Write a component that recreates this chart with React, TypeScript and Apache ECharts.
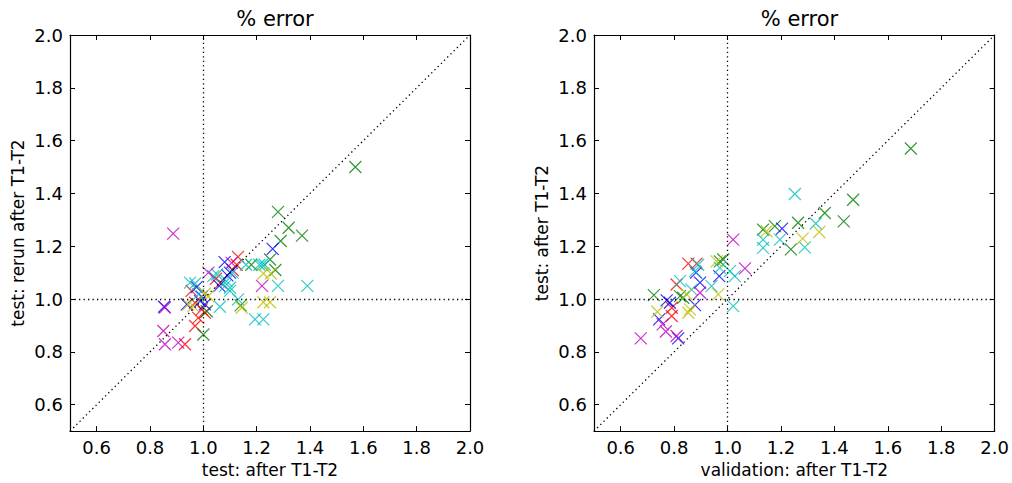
import React, { useEffect, useRef } from "react";
import * as echarts from "echarts";

const tickValues = [0.6, 0.8, 1.0, 1.2, 1.4, 1.6, 1.8, 2.0];
const titles = ["% error", "% error"];
const xNames = ["test: after T1-T2", "validation: after T1-T2"];
const yNames = ["test: rerun after T1-T2", "test: after T1-T2"];

// left panel: [test after T1-T2, test rerun after T1-T2]
const leftRed = [[1.13, 1.16], [1.125, 1.13], [1.11, 1.11], [1.047, 1.077], [1.065, 1.062], [0.956, 1.031], [0.969, 0.986], [0.994, 0.961], [1.006, 0.948], [0.981, 0.929], [0.969, 0.898], [0.931, 0.829]];
const leftGreen = [[1.57, 1.5], [1.28, 1.33], [1.32, 1.27], [1.37, 1.24], [1.29, 1.22], [1.25, 1.15], [1.27, 1.11], [1.18, 1.13], [1.14, 0.976], [1.013, 0.954], [1.0, 0.866]];
const leftBlue = [[1.26, 1.19], [1.08, 1.14], [1.1, 1.1], [1.09, 1.09], [1.06, 1.05], [0.975, 1.045], [0.994, 1.009], [0.988, 0.992], [0.938, 0.98], [1.006, 0.98], [0.853, 0.971]];
const leftCyan = [[1.22, 1.13], [1.28, 1.05], [1.39, 1.05], [1.21, 1.13], [1.23, 1.13], [1.16, 1.13], [1.11, 1.1], [1.037, 1.087], [1.052, 1.093], [1.087, 1.068], [1.081, 1.049], [1.1, 1.043], [1.1, 1.031], [0.95, 1.062], [0.969, 1.059], [0.981, 1.018], [1.062, 0.971], [1.13, 0.999], [1.194, 0.923], [1.225, 0.923]];
const leftMagenta = [[0.887, 1.248], [1.22, 1.05], [1.106, 1.137], [1.019, 1.1], [0.856, 0.968], [0.85, 0.879], [0.856, 0.829], [0.906, 0.835]];
const leftYellow = [[1.225, 1.097], [1.253, 1.097], [1.006, 1.021], [1.019, 1.011], [0.944, 0.98], [0.962, 0.973], [1.144, 0.967], [1.225, 0.988], [1.25, 0.988]];

// right panel: [validation after T1-T2, test after T1-T2]
const rightRed = [[0.853, 1.134], [0.884, 1.134], [0.809, 1.055], [0.791, 0.967], [0.791, 0.936]];
const rightGreen = [[1.686, 1.57], [1.47, 1.376], [1.364, 1.326], [1.435, 1.294], [1.264, 1.289], [1.237, 1.188], [1.133, 1.263], [1.177, 1.276], [0.971, 1.143], [0.984, 1.15], [0.724, 1.015], [0.822, 1.011], [0.834, 1.005]];
const rightBlue = [[1.204, 1.267], [0.897, 1.062], [0.969, 1.087], [0.882, 1.1], [0.772, 0.995], [0.784, 0.986], [0.878, 0.977], [0.744, 0.923], [0.815, 0.851]];
const rightCyan = [[1.252, 1.398], [1.33, 1.286], [1.289, 1.196], [1.133, 1.225], [1.133, 1.194], [1.196, 1.225], [0.971, 1.118], [1.009, 1.106], [1.027, 1.087], [0.878, 1.106], [0.822, 1.068], [0.865, 1.036], [0.94, 1.049], [1.021, 0.973], [0.89, 1.13]];
const rightMagenta = [[1.021, 1.225], [1.065, 1.116], [0.897, 1.024], [0.757, 0.904], [0.769, 0.877], [0.809, 0.86], [0.675, 0.851]];
const rightYellow = [[1.343, 1.254], [1.281, 1.229], [1.146, 1.257], [0.959, 1.143], [0.847, 1.018], [0.965, 1.018], [0.859, 0.961], [0.853, 0.948], [0.737, 0.952]];

const colors = ["#ff0000", "#008000", "#0000ff", "#00bfbf", "#bf00bf", "#bfbf00"];
const leftSets = [leftRed, leftGreen, leftBlue, leftCyan, leftMagenta, leftYellow];
const rightSets = [rightRed, rightGreen, rightBlue, rightCyan, rightMagenta, rightYellow];

const FONT = "DejaVu Sans";

export default function App() {
  const ref = useRef<HTMLDivElement>(null);
  useEffect(() => {
    if (!ref.current) return;
    const chart = echarts.init(ref.current, undefined, { renderer: "svg" });
    const grids = [
      { left: 70, top: 35, width: 400, height: 397 },
      { left: 594, top: 35, width: 401, height: 397 },
    ];
    const fmt = (v: number) => v.toFixed(1);
    const xAxes: any[] = [];
    const yAxes: any[] = [];
    [0, 1].forEach((g) => {
      ["bottom", "top"].forEach((pos, k) => {
        xAxes.push({
          type: "value", gridIndex: g, position: pos, min: 0.5, max: 2.0,
          axisLine: { show: true, onZero: false, lineStyle: { color: "#000", width: 1.2 } },
          axisTick: { show: true, inside: true, length: 5, customValues: tickValues, lineStyle: { color: "#000" } },
          axisLabel: { show: k === 0, customValues: tickValues, formatter: fmt, color: "#000", fontSize: 18, fontFamily: FONT, margin: 7 },
          splitLine: { show: false },
          name: k === 0 ? xNames[g] : "",
          nameLocation: "middle", nameGap: 27,
          nameTextStyle: { color: "#000", fontSize: 17, fontFamily: FONT },
        });
      });
      ["left", "right"].forEach((pos, k) => {
        yAxes.push({
          type: "value", gridIndex: g, position: pos, min: 0.5, max: 2.0,
          axisLine: { show: true, onZero: false, lineStyle: { color: "#000", width: 1.2 } },
          axisTick: { show: true, inside: true, length: 5, customValues: tickValues, lineStyle: { color: "#000" } },
          axisLabel: { show: k === 0, customValues: tickValues, formatter: fmt, color: "#000", fontSize: 18, fontFamily: FONT, margin: 7 },
          splitLine: { show: false },
          name: k === 0 ? yNames[g] : "",
          nameLocation: "middle", nameGap: 44,
          nameTextStyle: { color: "#000", fontSize: 17, fontFamily: FONT },
        });
      });
    });
    const series: any[] = [];
    const dotted = { color: "#000", width: 1.3, type: [1.3, 3.2] };
    [leftSets, rightSets].forEach((sets, g) => {
      sets.forEach((data, i) => {
        series.push({
          type: "scatter", xAxisIndex: g * 2, yAxisIndex: g * 2,
          data, symbol: "path://M0,0L10,10M0,10L10,0", symbolSize: 12,
          itemStyle: { color: "transparent", borderColor: colors[i], borderWidth: 1.2 },
          ...(i === 0
            ? {
                markLine: {
                  silent: true, symbol: ["none", "none"], label: { show: false },
                  lineStyle: dotted,
                  data: [
                    { xAxis: 1.0 },
                    { yAxis: 1.0 },
                    [{ coord: [0.5, 0.5] }, { coord: [2.0, 2.0] }],
                  ],
                },
              }
            : {}),
        });
      });
    });
    chart.setOption({
      animation: false,
      backgroundColor: "#fff",
      title: [0, 1].map((g) => ({
        text: titles[g], left: grids[g].left + grids[g].width / 2, top: 3, textAlign: "center",
        textStyle: { color: "#000", fontSize: 21, fontWeight: "normal", fontFamily: FONT },
      })),
      grid: grids,
      xAxis: xAxes,
      yAxis: yAxes,
      series,
    });
    return () => chart.dispose();
  }, []);
  return <div ref={ref} style={{ position: "fixed", left: 0, top: 0, width: 1012, height: 483 }} />;
}
